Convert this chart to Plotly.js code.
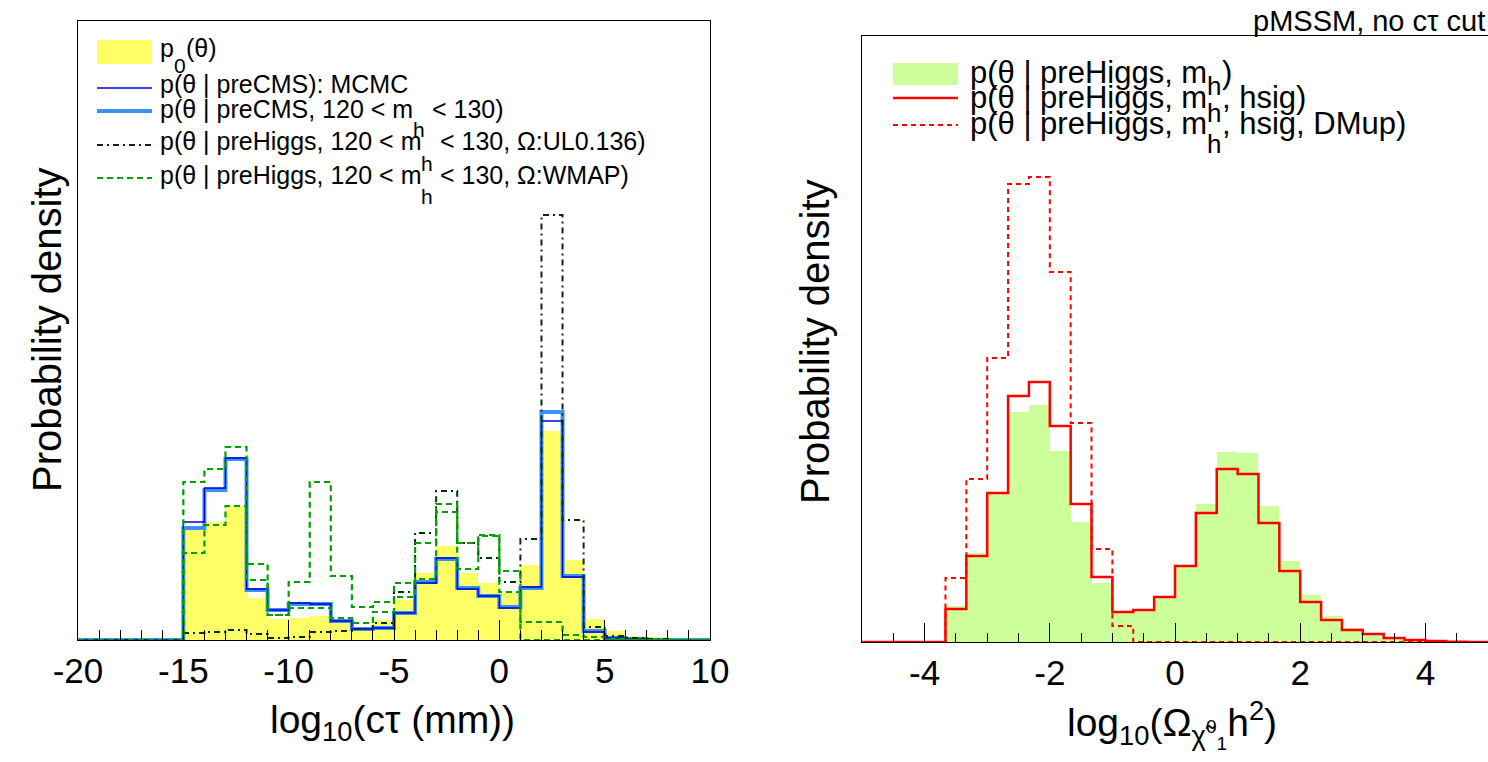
<!DOCTYPE html>
<html>
<head>
<meta charset="utf-8">
<script src="https://cdn.plot.ly/plotly-3.0.1.min.js"></script>
<style>
  html, body { margin: 0; padding: 0; background: #fff; }
  #myDiv { width: 1488px; height: 762px; }
</style>
</head>
<body>
<div id="myDiv"></div>
<script>
// ---- left panel: log10(c tau) histograms, 1 unit bins from -20 to 10 ----
var ctauLow = -20, ctauBin = 1, ctauN = 30;
// heights in arbitrary density units (frame top = 619)
var prior = [0,0,0,0,0, 110,118,134,42,21, 22,24,18,10,20, 40,67,94,67,57, 47,75,209,80,21, 9,4,3,2,1];
var preCmsMcmc = [0,0,0,0,0, 118,152,182,51,30, 37,36,19,11,12, 27,57,82,51,44, 32,53,219,63,8, 2,1,0,0,0];
var preCmsMh = [0,0,0,0,0, 112,150,181,50,30, 36,36,19,11,12, 27,58,81,52,44, 33,52,228,64,9, 2,1,0,0,0];
var higgsUL = [0,0,0,0,0, 7,8,10,6,2, 3,8,9,11,17, 48,107,149,97,82, 58,101,425,120,13, 4,2,1,0,0];
var higgsWMAP = [0,0,0,0,0, 158,171,193,76,25, 58,158,64,33,38, 57,97,136,97,105, 69,0,0,0,0, 0,0,0,0,0];
var higgsWMAP2 = [0,0,0,0,0, 87,115,134,60,25, 32,32,22,17,28, 43,61,128,71,104, 48,18,18,5,3, 1,0,0,0,0];
var ctauTickVals = [-20, -15, -10, -5, 0, 5, 10];
var ctauTickText = ['-20', '-15', '-10', '-5', '0', '5', '10'];

// ---- right panel: log10(Omega h^2) histograms, 1/3 bins from -5 to 5 ----
var omegaLow = -5, omegaBin = 1/3, omegaN = 30;
var omegaMh = [0,0,0,0, 36,89,149,230,237,191, 120,59,30,31,45, 76,138,190,189,136, 81,47,26,14,9, 4,3,1,0.5,0.3];
var omegaHsig = [0,0,0,0, 33,86,149,246,260,216, 138,65,30,32,45, 76,129,173,168,119, 71,40,22,12,8, 4,2,1,0.3,0];
var omegaDMup = [0,0,0,0, 64,163,284,458,465,370, 219,93,16,0,0, 0,0,0,0,0, 0,0,0,0,0, 0,0,0,0,0];
var omegaTickVals = [-4, -2, 0, 2, 4];
var omegaTickText = ['-4', '-2', '0', '2', '4'];

var W = 1488, H = 762;
var FONT = '"Liberation Sans", Arial, sans-serif';

function edges(lo, bin, n) {
    var e = [];
    for (var i = 0; i <= n; i++) e.push(lo + i * bin);
    return e;
}
function centers(lo, bin, n) {
    var c = [];
    for (var i = 0; i < n; i++) c.push(lo + (i + 0.5) * bin);
    return c;
}

// histogram outline drawn as a step line through the bin edges
function stepTrace(lo, bin, vals, line, xa, ya) {
    return {
        x: edges(lo, bin, vals.length),
        y: vals.concat([vals[vals.length - 1]]),
        type: 'scatter',
        mode: 'lines',
        line: Object.assign({shape: 'hv'}, line),
        xaxis: xa, yaxis: ya,
        cliponaxis: false,
        hoverinfo: 'skip'
    };
}
function fillTrace(lo, bin, vals, color, xa, ya) {
    return {
        x: centers(lo, bin, vals.length),
        y: vals,
        width: bin,
        type: 'bar',
        marker: {color: color, line: {width: 0}},
        xaxis: xa, yaxis: ya,
        hoverinfo: 'skip'
    };
}

var yellow = '#ffff66', lime = '#ccff99';
var blueThin = {color: '#0000dd', width: 1.3};
var blueThick = {color: '#3a92f5', width: 4};
var ulStyle = {color: '#003300', width: 2, dash: '6px,4px,2px,4px'};
var wmapStyle = {color: '#00a000', width: 2.2, dash: '6px,4px'};
var redSolid = {color: '#ff0000', width: 2.5};
var redDash = {color: '#ff0000', width: 2, dash: '5px,4px'};

var data = [
    fillTrace(ctauLow, ctauBin, prior, yellow, 'x', 'y'),
    stepTrace(ctauLow, ctauBin, preCmsMh, blueThick, 'x', 'y'),
    stepTrace(ctauLow, ctauBin, preCmsMcmc, blueThin, 'x', 'y'),
    stepTrace(ctauLow, ctauBin, higgsUL, ulStyle, 'x', 'y'),
    stepTrace(ctauLow, ctauBin, higgsWMAP, wmapStyle, 'x', 'y'),
    stepTrace(ctauLow, ctauBin, higgsWMAP2, wmapStyle, 'x', 'y'),
    fillTrace(omegaLow, omegaBin, omegaMh, lime, 'x2', 'y2'),
    stepTrace(omegaLow, omegaBin, omegaHsig, redSolid, 'x2', 'y2'),
    stepTrace(omegaLow, omegaBin, omegaDMup, redDash, 'x2', 'y2')
];

function px(x) { return x / W; }
function py(y) { return 1 - y / H; }

function xAxis(dom, rng, tv, tt, minorStep, majLen, minLen, anchor) {
    return {
        domain: dom, range: rng, anchor: anchor,
        showline: true, mirror: true, linecolor: '#000', linewidth: 1,
        ticks: 'inside', ticklen: majLen, tickwidth: 1, tickcolor: '#000',
        tickmode: 'array', tickvals: tv, ticktext: tt,
        tickfont: {family: FONT, size: 35, color: '#000'},
        ticklabelstandoff: 0,
        minor: {ticks: 'inside', ticklen: minLen, tickwidth: 1, tickcolor: '#000',
                tickmode: 'linear', tick0: rng[0], dtick: minorStep, showgrid: false},
        showgrid: false, zeroline: false, fixedrange: true
    };
}
function yAxis(dom, top, anchor) {
    return {
        domain: dom, range: [0, top], anchor: anchor,
        showline: true, mirror: true, linecolor: '#000', linewidth: 1,
        ticks: '', showticklabels: false, showgrid: false, zeroline: false, fixedrange: true
    };
}

// ---- hand-built legends (ROOT style, with its displaced subscripts) ----
var cv = document.createElement('canvas').getContext('2d');
function textW(s, size) {
    cv.font = size + 'px ' + FONT;
    return cv.measureText(s).width;
}

var shapes = [];
var annotations = [];

function addText(str, x, y, size, extra) {
    annotations.push(Object.assign({
        text: str, xref: 'paper', yref: 'paper', x: px(x), y: py(y),
        xanchor: 'left', yanchor: 'middle', showarrow: false,
        font: {family: FONT, size: size, color: '#000'}
    }, extra || {}));
}
function addRow(row, x0, size, subSize) {
    addText(row.pre, x0, row.y, size);
    if (row.sub) {
        var w1 = textW(row.pre, size);
        addText(row.sub, x0 + w1, row.subY, subSize);
        var w2 = textW(row.sub, subSize);
        addText(row.post, x0 + w1 + w2, row.y, size);
    }
}

var leftRows = [
    {pre: 'p', sub: '0', post: '(θ)', y: 48, subY: 66},
    {pre: 'p(θ | preCMS): MCMC', y: 84},
    {pre: 'p(θ | preCMS, 120 < m', sub: 'h', post: ' < 130)', y: 109, subY: 129},
    {pre: 'p(θ | preHiggs, 120 < m', sub: 'h', post: ' < 130, Ω:UL0.136)', y: 141, subY: 163},
    {pre: 'p(θ | preHiggs, 120 < m', sub: 'h', post: ' < 130, Ω:WMAP)', y: 175, subY: 196}
];
leftRows.forEach(function (r) { addRow(r, 158, 25, 21); });
shapes.push({type: 'rect', xref: 'paper', yref: 'paper', x0: px(97), x1: px(152), y0: py(40), y1: py(64),
             fillcolor: yellow, line: {width: 0}});
[[88, blueThin], [111, blueThick], [145, ulStyle], [178, wmapStyle]].forEach(function (s) {
    shapes.push({type: 'line', xref: 'paper', yref: 'paper', x0: px(97), x1: px(152), y0: py(s[0]), y1: py(s[0]),
                 line: s[1]});
});

var rightRows = [
    {pre: 'p(θ | preHiggs, m', sub: 'h', post: ')', y: 72, subY: 86},
    {pre: 'p(θ | preHiggs, m', sub: 'h', post: ', hsig)', y: 97, subY: 113},
    {pre: 'p(θ | preHiggs, m', sub: 'h', post: ', hsig, DMup)', y: 124, subY: 144}
];
rightRows.forEach(function (r) { addRow(r, 968, 31, 26); });
shapes.push({type: 'rect', xref: 'paper', yref: 'paper', x0: px(893), x1: px(958), y0: py(63), y1: py(85),
             fillcolor: lime, line: {width: 0}});
[[98, redSolid], [125, redDash]].forEach(function (s) {
    shapes.push({type: 'line', xref: 'paper', yref: 'paper', x0: px(893), x1: px(958), y0: py(s[0]), y1: py(s[0]),
                 line: s[1]});
});

// axis titles and the corner caption
addText('Probability density', 47, 330, 40, {xanchor: 'center', textangle: -90});
addText('Probability density', 815, 342, 40, {xanchor: 'center', textangle: -90});
addText('log<sub>10</sub>(cτ (mm))', 392, 722, 39, {xanchor: 'center'});
addText('log<sub>10</sub>(Ω<sub>χ̃<sup>0</sup><sub>1</sub></sub>h<sup>2</sup>)', 1172, 724, 39, {xanchor: 'center'});
addText('pMSSM, no cτ cut', 1487, 21, 29, {xanchor: 'right'});

var layout = {
    width: W, height: H,
    margin: {l: 0, r: 0, t: 0, b: 0},
    paper_bgcolor: '#fff', plot_bgcolor: '#fff',
    showlegend: false,
    bargap: 0, barmode: 'overlay',
    font: {family: FONT, color: '#000'},
    xaxis: xAxis([px(78), px(710)], [ctauLow, ctauLow + ctauN * ctauBin], ctauTickVals, ctauTickText, 1, 20, 10, 'y'),
    yaxis: yAxis([py(640), py(21)], 619, 'x'),
    xaxis2: xAxis([px(862), 1], [omegaLow, omegaLow + omegaN * omegaBin], omegaTickVals, omegaTickText, 0.5, 19, 9, 'y2'),
    yaxis2: yAxis([py(642), py(36)], 606, 'x2'),
    shapes: shapes,
    annotations: annotations
};

Plotly.newPlot('myDiv', data, layout, {displayModeBar: false, staticPlot: true});
</script>
</body>
</html>
